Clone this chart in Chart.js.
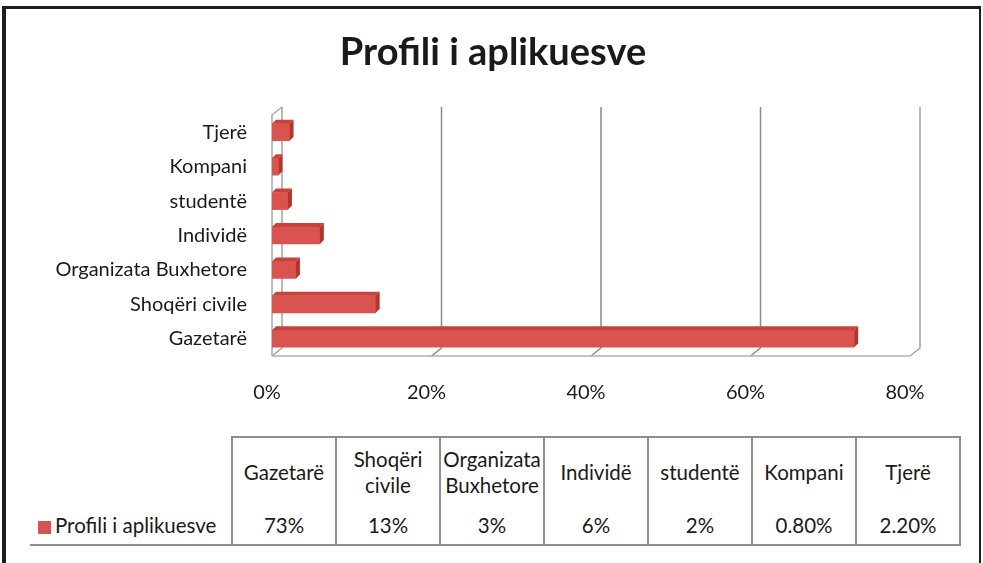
<!DOCTYPE html>
<html lang="sq">

<head>
  <meta charset="UTF-8">
  <title>Profili i aplikuesve</title>
  <script src="https://cdn.jsdelivr.net/npm/chart.js"></script>
  <style>
    body {
      margin: 0;
      width: 983px;
      height: 563px;
      overflow: hidden;
      background: #fff;
      font-family: Lato, 'Open Sans', sans-serif;
      color: #1a1a1a;
    }

    .kuadri {
      position: absolute;
      left: 2px;
      top: 6px;
      width: 979px;
      height: 600px;
      box-sizing: border-box;
      border-top: 3px solid #1e1e1e;
      border-left: 4px solid #1e1e1e;
      border-right: 2px solid #1e1e1e;
    }

    h1.titulli {
      position: absolute;
      left: 0;
      top: 27px;
      width: 986px;
      margin: 0;
      text-align: center;
      font-size: 38px;
      line-height: 46px;
      font-weight: bold;
      color: #1a1a1a;
    }

    .grafiku {
      position: absolute;
      left: 0;
      top: 0;
      width: 983px;
      height: 420px;
    }

    table.tabela {
      position: absolute;
      left: 30px;
      top: 436px;
      border-collapse: collapse;
      font-size: 20.5px;
      table-layout: fixed;
    }

    .tabela td {
      padding: 0 1px;
      text-align: center;
      line-height: 26px;
    }

    .tabela tr.koka td {
      height: 68px;
      border-top: 2px solid #8e8e8e;
      border-left: 2px solid #8e8e8e;
      border-right: 2px solid #8e8e8e;
    }

    .tabela tr.koka td.bosh {
      border: none;
      border-right: 2px solid #8e8e8e;
    }

    .tabela tr.vlera td {
      height: 38px;
      border-bottom: 2px solid #8e8e8e;
      border-left: 2px solid #8e8e8e;
      border-right: 2px solid #8e8e8e;
    }

    .tabela tr.vlera td.legjenda {
      border-left: none;
      text-align: left;
      padding-left: 8px;
      white-space: nowrap;
    }

    .katror {
      display: inline-block;
      width: 13px;
      height: 13px;
      background: #d9534f;
      margin-right: 4px;
      vertical-align: -1px;
    }
  </style>
</head>

<body>

  <div class="kuadri"></div>

  <div class="grafiku">
    <canvas id="grafikuIm" width="983" height="420"></canvas>
  </div>

  <h1 class="titulli">Profili i aplikuesve</h1>

  <table class="tabela" id="tabela"></table>

</body>

</html>
<script>

  // te dhenat e grafikut
  const kategorite = ['Gazetarë', 'Shoqëri civile', 'Organizata Buxhetore', 'Individë', 'studentë', 'Kompani', 'Tjerë'];
  const perqindjet = [73, 13, 3, 6, 2, 0.8, 2.2];
  const etiketatX = [0, 20, 40, 60, 80];
  const emriSerise = 'Profili i aplikuesve';

  const ngjyraKuqe = '#d9534f';
  const thellesia = 10; // zhvendosja e murit te pasem (efekt 3D)
  const lartesia = 8;

  function formato(v) {
    return Number.isInteger(v) ? v + '%' : v.toFixed(2) + '%';
  }

  // vizaton muret, dyshemene dhe faqet e shiritave
  const efekt3D = {
    id: 'efekt3D',
    beforeDatasetsDraw(chart) {
      const ctx = chart.ctx;
      const a = chart.chartArea;
      const x = chart.scales.x;
      ctx.save();
      ctx.lineWidth = 1.5;

      // vijat e rrjetit ne murin e pasem
      x.ticks.forEach(function (t, i) {
        const px = x.getPixelForTick(i);
        ctx.strokeStyle = (i === 0 || i === x.ticks.length - 1) ? '#a3a3a3' : '#8a8a8a';
        ctx.beginPath();
        ctx.moveTo(px + thellesia, a.top - lartesia);
        ctx.lineTo(px + thellesia, a.bottom - lartesia);
        ctx.lineTo(px, a.bottom);
        ctx.stroke();
      });

      // muri i majte
      ctx.strokeStyle = '#a8a8a8';
      ctx.beginPath();
      ctx.moveTo(a.left + thellesia, a.top - lartesia);
      ctx.lineTo(a.left, a.top);
      ctx.lineTo(a.left, a.bottom);
      ctx.stroke();

      // dyshemeja
      ctx.strokeStyle = '#b0b0b0';
      ctx.beginPath();
      ctx.moveTo(a.left, a.bottom);
      ctx.lineTo(a.right, a.bottom);
      ctx.stroke();
      ctx.restore();
    },
    afterDatasetsDraw(chart) {
      const ctx = chart.ctx;
      const d = 4;
      ctx.save();
      chart.getDatasetMeta(0).data.forEach(function (bar) {
        const p = bar.getProps(['x', 'y', 'base', 'height'], true);
        const lart = p.y - p.height / 2;
        const posht = p.y + p.height / 2;
        // faqja e siperme
        ctx.fillStyle = '#c8413d';
        ctx.beginPath();
        ctx.moveTo(p.base, lart);
        ctx.lineTo(p.base + d, lart - d);
        ctx.lineTo(p.x + d, lart - d);
        ctx.lineTo(p.x, lart);
        ctx.closePath();
        ctx.fill();
        // faqja anesore
        ctx.fillStyle = '#b5332f';
        ctx.beginPath();
        ctx.moveTo(p.x, lart);
        ctx.lineTo(p.x + d, lart - d);
        ctx.lineTo(p.x + d, posht - d);
        ctx.lineTo(p.x, posht);
        ctx.closePath();
        ctx.fill();
      });
      ctx.restore();
    }
  };

  function ndertoTabelen() {
    const tabela = document.getElementById('tabela');
    let koka = '<colgroup><col style="width:202px">';
    kategorite.forEach(function () { koka += '<col style="width:104px">'; });
    koka += '</colgroup>';

    let rreshti1 = '<tr class="koka"><td class="bosh"></td>';
    kategorite.forEach(function (k) { rreshti1 += '<td>' + k + '</td>'; });
    rreshti1 += '</tr>';

    let rreshti2 = '<tr class="vlera"><td class="legjenda"><span class="katror"></span>' + emriSerise + '</td>';
    perqindjet.forEach(function (v) { rreshti2 += '<td>' + formato(v) + '</td>'; });
    rreshti2 += '</tr>';

    tabela.innerHTML = koka + rreshti1 + rreshti2;
  }

  window.onload = function () {
    ndertoTabelen();

    const ctx = document.getElementById('grafikuIm').getContext('2d');
    const grafiku = new Chart(ctx, {
      type: 'bar',
      data: {
        labels: kategorite,
        datasets: [{
          label: emriSerise,
          data: perqindjet,
          backgroundColor: ngjyraKuqe,
          borderWidth: 0,
          barThickness: 17
        }]
      },
      plugins: [efekt3D],
      options: {
        indexAxis: 'y',
        responsive: false,
        animation: false,
        layout: {
          padding: { left: 0, right: 73, top: 115, bottom: 0 }
        },
        scales: {
          x: {
            min: 0,
            max: 80,
            afterBuildTicks: function (scale) {
              scale.ticks = etiketatX.map(function (v) { return { value: v }; });
            },
            afterFit: function (scale) { scale.height = 64; },
            grid: { display: false, drawTicks: false },
            border: { display: false },
            ticks: {
              padding: 25,
              labelOffset: -5,
              color: '#1a1a1a',
              font: { family: 'Lato', size: 20 },
              callback: function (v) { return v + '%'; }
            }
          },
          y: {
            reverse: true,
            afterFit: function (scale) { scale.width = 272; },
            grid: { display: false, drawTicks: false },
            border: { display: false },
            ticks: {
              padding: 25,
              color: '#1a1a1a',
              font: { family: 'Lato', size: 20 }
            }
          }
        },
        plugins: {
          legend: { display: false },
          tooltip: { enabled: false },
          title: { display: false }
        }
      }
    });
  };

</script>
